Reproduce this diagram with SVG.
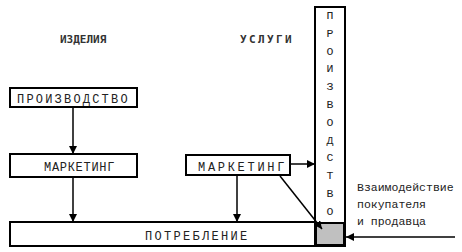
<svg xmlns="http://www.w3.org/2000/svg" width="462" height="252" viewBox="0 0 462 252">
  <defs>
    <marker id="ah" viewBox="0 0 10 10" refX="10" refY="5" markerWidth="8" markerHeight="8" markerUnits="userSpaceOnUse" orient="auto">
      <path d="M0,0 L10,5 L0,10 z" fill="#000"/>
    </marker>
    <style>
      .box { fill: #fff; stroke: #000; stroke-width: 2; }
      .t { font-family: "Liberation Mono", "DejaVu Sans Mono", monospace; font-size: 12px; fill: #222; }
      .h { font-family: "DejaVu Sans Mono", "Liberation Mono", monospace; font-size: 11px; font-weight: bold; fill: #333; }
      .v { font-family: "Liberation Mono", monospace; font-size: 11.5px; fill: #222; text-anchor: middle; }
      .n { font-family: "Liberation Mono", monospace; font-size: 11.5px; fill: #222; }
      .c { stroke: #000; stroke-width: 1.5; fill: none; marker-end: url(#ah); }
    </style>
  </defs>
  <rect width="462" height="252" fill="#fff"/>

  <text class="h" x="60" y="43">ИЗДЕЛИЯ</text>
  <text class="h" x="240" y="43" style="letter-spacing:2.4px">УСЛУГИ</text>

  <g id="consumption">
    <rect class="box" x="10" y="222" width="305" height="24"/>
    <text class="t" x="145" y="240" style="letter-spacing:2.3px">ПОТРЕБЛЕНИЕ</text>
  </g>

  <g id="production-services">
    <rect class="box" x="315" y="7" width="30" height="239"/>
    <rect x="316" y="223" width="28" height="22" fill="#c0c0c0" stroke="#000" stroke-width="2"/>
    <text class="v" x="330" y="19">П</text>
    <text class="v" x="330" y="36.8">Р</text>
    <text class="v" x="330" y="54.6">О</text>
    <text class="v" x="330" y="72.4">И</text>
    <text class="v" x="330" y="90.2">З</text>
    <text class="v" x="330" y="108">В</text>
    <text class="v" x="330" y="125.8">О</text>
    <text class="v" x="330" y="143.6">Д</text>
    <text class="v" x="330" y="161.4">С</text>
    <text class="v" x="330" y="179.2">Т</text>
    <text class="v" x="330" y="197">В</text>
    <text class="v" x="330" y="214.8">О</text>
  </g>

  <g id="production-goods">
    <rect class="box" x="10" y="88" width="127" height="19"/>
    <text class="t" x="17" y="103" style="letter-spacing:2.2px">ПРОИЗВОДСТВО</text>
  </g>

  <g id="marketing-goods">
    <rect class="box" x="10" y="154" width="127" height="23"/>
    <text class="t" x="44" y="171" style="letter-spacing:0.7px">МАРКЕТИНГ</text>
  </g>

  <g id="marketing-services">
    <rect class="box" x="186" y="155" width="104" height="20"/>
    <text class="t" x="198" y="171" style="letter-spacing:2.7px">МАРКЕТИНГ</text>
  </g>

  <g id="interaction-label">
    <text class="n" x="357" y="191">Взаимодействие</text>
    <text class="n" x="357" y="208">покупателя</text>
    <text class="n" x="357" y="225">и продавца</text>
  </g>

  <g id="connectors">
    <line class="c" x1="73" y1="107" x2="73" y2="154"/>
    <line class="c" x1="73" y1="177" x2="73" y2="222"/>
    <line class="c" x1="237" y1="175" x2="237" y2="222"/>
    <line class="c" x1="290" y1="164" x2="315" y2="164"/>
    <line class="c" x1="280" y1="176" x2="322" y2="229"/>
    <line class="c" x1="455" y1="237" x2="346" y2="237"/>
  </g>
</svg>
